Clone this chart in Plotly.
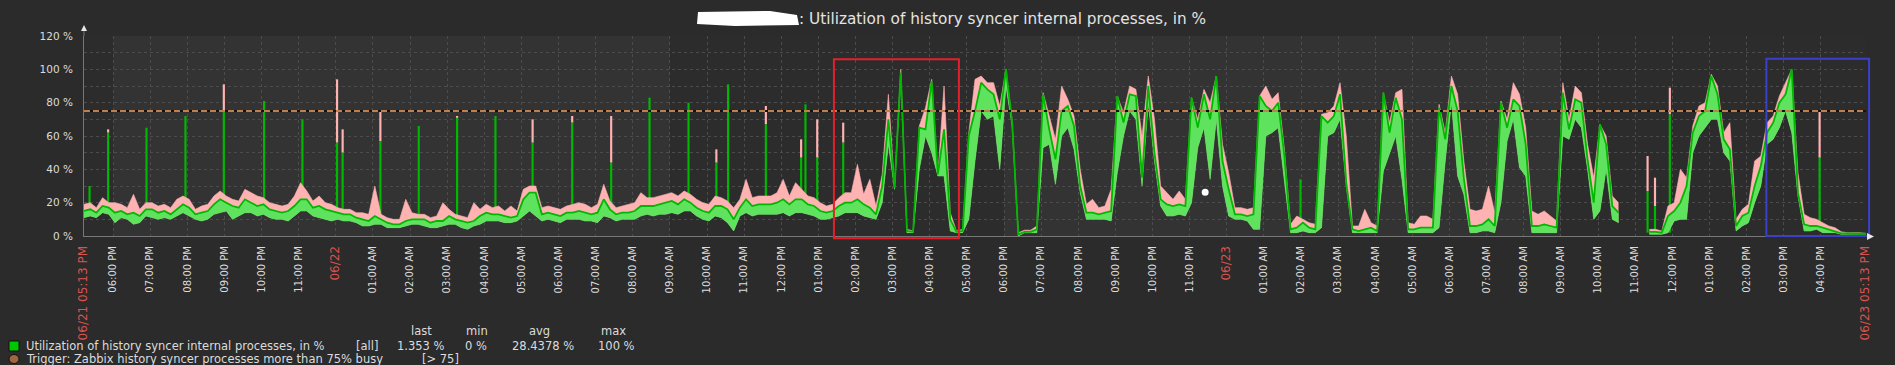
import plotly.graph_objects as go
import pandas as pd

# ---------------- data (values in %, one point every 10 minutes) ----------------
START = "2023-06-21 17:13"
END = "2023-06-23 17:13"

avg_pct = [
    # 06/21 17:13 -> 06/22 05:13
    15, 16, 14, 18, 17, 14, 15, 13, 14, 12, 16, 16, 14, 15, 13, 16, 19, 17, 13, 14,
    15, 19, 22, 20, 18, 17, 22, 20, 18, 19, 16, 15, 14, 15, 18, 22, 22, 17, 18, 16,
    15, 14, 13, 13, 11, 10, 9, 12, 10, 8, 7, 7, 9, 10, 10, 10, 8, 9, 9, 12,
    10, 9, 8, 9, 12, 14, 13, 13, 12, 11, 12, 22, 26,
    # 06/22 05:23 -> 17:13
    26, 13, 14, 13, 12, 14, 14, 15, 14, 13, 14, 22, 16, 13, 14, 14, 15, 18, 18, 18,
    19, 20, 21, 19, 22, 20, 17, 15, 14, 18, 18, 16, 10, 17, 22, 18, 19, 19, 19, 20,
    22, 19, 22, 22, 19, 18, 15, 14, 15, 18, 20, 20, 22, 19, 17, 13, 30, 70, 29, 98,
    3, 2.5, 65, 64, 93, 37, 64, 10, 2.5, 3, 60, 75,
    # 06/22 17:23 -> 06/23 05:13
    92, 88, 85, 70, 100, 68, 1, 2.5, 2.5, 4, 85, 64, 46, 75, 78, 66, 30, 14, 14, 13,
    14, 15, 84, 68, 85, 84, 35, 90, 50, 22, 19, 18, 19, 18, 83, 65, 85, 70, 96, 45,
    28, 13, 13, 12, 13, 84, 78, 75, 80, 48, 4, 5, 8, 5, 4, 72, 68, 72, 85, 32,
    4, 3, 4, 5, 3, 86, 62, 83, 70, 4, 4, 5,
    # 06/23 05:23 -> 17:13
    5, 5, 77, 58, 90, 75, 35, 6, 6, 7, 10, 6, 80, 65, 82, 78, 55, 6, 6, 7,
    6, 5, 86, 64, 82, 80, 46, 20, 67, 55, 18, 14, None, None, None, None, 2.5, 2.5, 2, 12,
    15, 20, 30, 62, 72, 75, 96, 85, 58, 52, 6, 12, 14, 30, 42, 62, 68, 80, 85, 100,
    26, 7, 6, 6, 5, 4, 3, 1.6, 1.5, 1.5, 1.4, 1.353,
]

min_pct = [
    11, 12, 11, 14, 13, 8, 11, 10, 7, 8, 12, 11, 10, 11, 10, 12, 14, 12, 10, 9,
    10, 13, 14, 15, 10, 12, 14, 14, 12, 13, 11, 10, 10, 9, 12, 15, 15, 12, 11, 10,
    9, 10, 9, 9, 8, 6, 6, 7, 7, 5, 5, 5, 6, 7, 7, 6, 5, 5, 6, 7,
    7, 5, 4, 6, 7, 9, 9, 9, 8, 8, 9, 12, 15,
    12, 9, 10, 9, 8, 10, 10, 10, 9, 9, 8, 12, 11, 9, 10, 10, 10, 12, 13, 12,
    13, 13, 14, 13, 15, 15, 12, 10, 9, 12, 11, 8, 3, 12, 14, 12, 13, 13, 13, 13,
    14, 12, 14, 14, 13, 12, 10, 10, 11, 12, 14, 14, 14, 12, 11, 10, 20, 55, 28, 95,
    2, 2, 40, 60, 50, 36, 36, 3, 2, 2, 10, 45,
    75, 70, 72, 40, 90, 66, 0, 2, 2, 2, 53, 55, 31, 60, 65, 52, 26, 10, 10, 10,
    10, 9, 38, 60, 75, 70, 30, 80, 45, 18, 12, 12, 13, 12, 20, 53, 65, 34, 70, 30,
    12, 10, 10, 9, 4, 4, 60, 62, 65, 33, 2, 2, 3, 2, 2, 5, 60, 62, 70, 30,
    2, 2, 2, 2, 2, 39, 50, 60, 34, 2, 2, 2,
    2, 2, 5, 45, 80, 36, 25, 2, 2, 3, 3, 2, 20, 57, 70, 41, 36, 2, 2, 2,
    2, 2, 60, 58, 70, 65, 40, 10, 15, 40, 10, 8, None, None, None, None, 1, 1, 1, 2,
    9, 10, 10, 50, 60, 65, 70, 70, 50, 45, 3, 6, 8, 20, 30, 55, 58, 65, 75, 62,
    24, 3, 3, 4, 2, 2, 2, 1, 1, 1, 1, 1.2,
]

max_pct = [
    19, 20, 17, 23, 20, 20, 19, 17, 25, 16, 20, 20, 18, 19, 17, 22, 24, 22, 16, 18,
    19, 24, 27, 24, 22, 21, 28, 26, 24, 23, 20, 19, 18, 19, 24, 32, 27, 21, 24, 20,
    19, 17, 16, 16, 14, 14, 13, 30, 13, 11, 10, 10, 22, 14, 13, 13, 11, 12, 20, 16,
    13, 12, 11, 20, 16, 19, 17, 18, 15, 18, 15, 28, 30,
    30, 17, 18, 17, 16, 18, 19, 20, 19, 17, 19, 31, 21, 17, 18, 19, 20, 26, 23, 23,
    24, 25, 26, 24, 27, 25, 22, 20, 19, 24, 23, 21, 17, 22, 34, 23, 24, 24, 24, 26,
    34, 24, 32, 28, 24, 23, 20, 18, 19, 23, 26, 26, 43, 25, 34, 18, 37, 85, 30, 100,
    4, 3, 66, 77, 94, 37, 90, 14, 3, 4, 62, 94,
    96, 92, 92, 78, 100, 69, 2, 3.5, 3.5, 6, 86, 72, 58, 90, 82, 72, 40, 19, 22, 17,
    18, 28, 84, 74, 90, 88, 60, 96, 70, 30, 26, 22, 27, 22, 83, 70, 88, 80, 96, 55,
    38, 17, 17, 16, 17, 84, 90, 82, 86, 52, 7, 12, 10, 8, 7, 73, 74, 78, 92, 60,
    6, 6, 16, 8, 6, 86, 68, 86, 88, 8, 7, 12,
    12, 10, 79, 62, 96, 85, 45, 16, 15, 16, 30, 14, 81, 70, 92, 85, 65, 15, 13, 15,
    12, 9, 92, 70, 90, 86, 55, 35, 67, 60, 24, 20, None, None, None, None, 4, 4, 3, 18,
    20, 40, 35, 66, 78, 80, 97, 90, 62, 68, 10, 16, 19, 45, 48, 68, 72, 84, 92, 100,
    38, 13, 11, 10, 8, 6, 5, 2.5, 2, 2, 2, 1.5,
]

# short bursts (narrower than one 10-minute step): time, base, avg peak, max peak (%)
spike_time = ["2023-06-21 17:22", "2023-06-21 17:52", "2023-06-21 18:54", "2023-06-21 19:57",
              "2023-06-21 20:59", "2023-06-21 22:04", "2023-06-21 23:06", "2023-06-22 00:02",
              "2023-06-22 00:11", "2023-06-22 01:12", "2023-06-22 02:14", "2023-06-22 03:16",
              "2023-06-22 04:18", "2023-06-22 05:18", "2023-06-22 06:22", "2023-06-22 07:25",
              "2023-06-22 08:27", "2023-06-22 09:30", "2023-06-22 10:15", "2023-06-22 10:34",
              "2023-06-22 11:35", "2023-06-22 12:32", "2023-06-22 12:39", "2023-06-22 12:58",
              "2023-06-22 13:40", "2023-06-23 01:59", "2023-06-23 11:20", "2023-06-23 11:32",
              "2023-06-23 11:56", "2023-06-23 15:58"]
spike_base = [14, 15, 14, 16, 16, 18, 18, 14, 12, 9, 9, 9, 12, 20, 14, 14, 16, 18, 15, 16,
              18, 18, 18, 16, 18, 4, 2, 2, 2, 6]
spike_avg = [30, 62, 65, 72, 75, 81, 70, 56, 50, 57, 66, 71, 72, 56, 68, 44, 83, 80, 44, 91,
             67, 47, 79, 47, 56, 34, 27, 18, 73, 47]
spike_max = [30, 64, 65, 72, 91, 81, 70, 94, 64, 75, 66, 72, 72, 70, 72, 72, 83, 80, 52, 91,
             78, 58, 79, 70, 68, 34, 48, 35, 89, 75]

TRIGGER_LEVEL = 75
y_tick_values = [0, 20, 40, 60, 80, 100, 120]
work_periods = [("2023-06-21 17:13", "2023-06-21 18:00"),
                ("2023-06-22 09:00", "2023-06-22 18:00"),
                ("2023-06-23 09:00", "2023-06-23 17:13")]

series_name = "Utilization of history syncer internal processes, in %"
trigger_name = "Trigger: Zabbix history syncer processes more than 75% busy"
stat_headers = ["last", "min", "avg", "max"]
stat_values = ["1.353 %", "0 %", "28.4378 %", "100 %"]

# user markup drawn on the screenshot: (time from, time to, % from, % to)
red_box = ("2023-06-22 13:25", "2023-06-22 16:47", -1.4, 106)
blue_box = ("2023-06-23 14:32", "2023-06-23 17:18", 0, 106.4)
white_dot = ("2023-06-22 23:25", 26.2)

# ---------------- geometry ----------------
W, H = 1895, 365
L, R, T, B = 84, 29, 36, 129
PW, PH = W - L - R, H - T - B
t0 = pd.Timestamp(START)
t1 = pd.Timestamp(END)
YMAX = 120


def px_x(x):
    return (x - L) / PW


def px_y(y):
    return (H - B - y) / PH


def time_to_paper(ts):
    return (pd.Timestamp(ts) - t0) / (t1 - t0)


times = pd.date_range(START, END, freq="10min")
assert len(times) == len(avg_pct) == len(min_pct) == len(max_pct)

BG = "#2b2b2b"
PLOT_BG = "#333333"
WORK_BG = "#2c2c2c"
GRID = "#4c4c4c"
TXT = "#dcdcdc"
RED_TXT = "#d9534f"
PINK = "#ffb2b2"
LGREEN = "#5fe35f"
DGREEN = "#00b800"
TRIG = "#c0804e"
FONT = "DejaVu Sans"


def runs(values):
    out, cur = [], []
    for i, v in enumerate(values):
        if v is None:
            if cur:
                out.append(cur)
                cur = []
        else:
            cur.append(i)
    if cur:
        out.append(cur)
    return out


fig = go.Figure()
for run in runs(avg_pct):
    xs = [times[i] for i in run]
    mn = [min_pct[i] for i in run]
    mx = [max_pct[i] for i in run]
    av = [avg_pct[i] for i in run]
    fig.add_trace(go.Scatter(x=xs, y=mn, mode="lines", line=dict(width=0, color=PINK),
                             showlegend=False, hoverinfo="skip"))
    fig.add_trace(go.Scatter(x=xs, y=mx, mode="lines", line=dict(width=0.6, color=PINK),
                             fill="tonexty", fillcolor=PINK, showlegend=False, hoverinfo="skip"))
    fig.add_trace(go.Scatter(x=xs, y=mn, mode="lines", line=dict(width=0.6, color=LGREEN),
                             showlegend=False, hoverinfo="skip"))
    fig.add_trace(go.Scatter(x=xs, y=av, mode="lines", line=dict(width=1.8, color=DGREEN),
                             fill="tonexty", fillcolor=LGREEN, showlegend=False, hoverinfo="skip"))

SPIKE_W = 3.5 * 60 * 1000  # bar width in ms
fig.add_trace(go.Bar(x=spike_time, base=spike_avg,
                     y=[m - a for m, a in zip(spike_max, spike_avg)], width=SPIKE_W,
                     marker=dict(color=PINK, line=dict(width=0)), showlegend=False, hoverinfo="skip"))
fig.add_trace(go.Bar(x=spike_time, base=spike_base,
                     y=[a - b for a, b in zip(spike_avg, spike_base)], width=SPIKE_W,
                     marker=dict(color=DGREEN, line=dict(width=0)), showlegend=False, hoverinfo="skip"))

# trigger line
fig.add_trace(go.Scatter(x=[START, END], y=[TRIGGER_LEVEL, TRIGGER_LEVEL], mode="lines",
                         line=dict(width=2, color="#111111"), showlegend=False, hoverinfo="skip"))
fig.add_trace(go.Scatter(x=[START, END], y=[TRIGGER_LEVEL, TRIGGER_LEVEL], mode="lines",
                         line=dict(width=2, color=TRIG, dash="6px,3px"), showlegend=False,
                         hoverinfo="skip"))

# ---------------- x ticks (hourly; hours too close to the end label are skipped) ----------------
RED_SPAN = "<span style='color:" + RED_TXT + ";font-size:12px'>{}</span>"
tickvals = [t0]
ticktext = [RED_SPAN.format(t0.strftime('%m/%d %I:%M %p'))]
for h in pd.date_range(t0.ceil("h"), t1.floor("h"), freq="h"):
    if (t1 - h) < pd.Timedelta(minutes=30) or (h - t0) < pd.Timedelta(minutes=30):
        continue
    tickvals.append(h)
    if h.hour == 0:
        ticktext.append(RED_SPAN.format(h.strftime('%m/%d')))
    else:
        ticktext.append(h.strftime("%I:%M %p"))
tickvals.append(t1)
ticktext.append(RED_SPAN.format(t1.strftime('%m/%d %I:%M %p')))

shapes = []
for a, b in work_periods:
    shapes.append(dict(type="rect", xref="x", yref="paper", x0=a, x1=b, y0=0, y1=1,
                       fillcolor=WORK_BG, line=dict(width=0), layer="below"))
for box, col in ((red_box, "#e3202c"), (blue_box, "#3b40c8")):
    shapes.append(dict(type="rect", xref="paper", yref="paper",
                       x0=time_to_paper(box[0]), x1=time_to_paper(box[1]),
                       y0=box[2] / YMAX, y1=box[3] / YMAX,
                       line=dict(color=col, width=2), fillcolor="rgba(0,0,0,0)"))
dx = time_to_paper(white_dot[0])
dy = white_dot[1] / YMAX
shapes.append(dict(type="circle", xref="paper", yref="paper",
                   x0=dx - 3.5 / PW, x1=dx + 3.5 / PW, y0=dy - 3.5 / PH, y1=dy + 3.5 / PH,
                   fillcolor="white", line=dict(width=0)))
# axis extensions and arrows
shapes.append(dict(type="line", xref="paper", yref="paper", x0=px_x(84), x1=px_x(84),
                   y0=px_y(36), y1=px_y(30), line=dict(color="#777777", width=1)))
shapes.append(dict(type="path", xref="paper", yref="paper",
                   path=f"M {px_x(81)},{px_y(31)} L {px_x(87)},{px_y(31)} L {px_x(84)},{px_y(25)} Z",
                   fillcolor="#e8e8e8", line=dict(width=0)))
shapes.append(dict(type="path", xref="paper", yref="paper",
                   path=f"M {px_x(1867)},{px_y(233)} L {px_x(1867)},{px_y(240)} L {px_x(1874)},{px_y(236.5)} Z",
                   fillcolor="#e8e8e8", line=dict(width=0)))
# title blob (redacted host name)
shapes.append(dict(type="path", xref="paper", yref="paper",
                   path=(f"M {px_x(698)},{px_y(12)} L {px_x(770)},{px_y(11)} L {px_x(797)},{px_y(15)} "
                         f"L {px_x(799)},{px_y(25)} L {px_x(735)},{px_y(26)} L {px_x(697)},{px_y(24)} Z"),
                   fillcolor="white", line=dict(width=0)))
# legend markers
ROW0, ROW1, ROW2 = 331, 346, 359
shapes.append(dict(type="rect", xref="paper", yref="paper", x0=px_x(9), x1=px_x(19),
                   y0=px_y(ROW1 + 5), y1=px_y(ROW1 - 5), fillcolor="#00c800",
                   line=dict(color="#101010", width=1)))
shapes.append(dict(type="circle", xref="paper", yref="paper", x0=px_x(9), x1=px_x(19),
                   y0=px_y(ROW2 + 4.5), y1=px_y(ROW2 - 4.5), fillcolor="#a0673f",
                   line=dict(color="#101010", width=1)))

annotations = []


def add_text(text, x, y, anchor="left", size=11.5, color=TXT):
    annotations.append(dict(text=text, xref="paper", yref="paper", x=px_x(x), y=px_y(y),
                            xanchor=anchor, yanchor="middle", showarrow=False,
                            font=dict(family=FONT, size=size, color=color)))


add_text(": Utilization of history syncer internal processes, in %", 797, 19, size=15.3, color="#e4e4e4")
for hdr, cx in zip(stat_headers, [421, 477, 539, 613]):
    add_text(hdr, cx, ROW0, anchor="center")
add_text(series_name, 24, ROW1)
add_text("[all]", 367, ROW1, anchor="center")
for val, cx in zip(stat_values, [421, 476, 542.5, 616]):
    add_text(val, cx, ROW1, anchor="center")
add_text(trigger_name, 24, ROW2)
add_text("[> 75]", 420, ROW2)

fig.update_layout(
    width=W, height=H,
    margin=dict(l=L, r=R, t=T, b=B, pad=0),
    paper_bgcolor=BG, plot_bgcolor=PLOT_BG,
    showlegend=False, barmode="overlay",
    shapes=shapes, annotations=annotations,
    font=dict(family=FONT, color=TXT),
    xaxis=dict(type="date", range=[t0, t1], tickvals=tickvals, ticktext=ticktext,
               tickangle=-90, tickfont=dict(family=FONT, size=10, color=TXT),
               showgrid=True, gridcolor=GRID, griddash="3px,3px", gridwidth=1,
               showline=True, linecolor="#777777", linewidth=1, ticks="",
               zeroline=False, ticklabelstandoff=5, fixedrange=True),
    yaxis=dict(range=[0, YMAX], tickvals=y_tick_values,
               ticktext=[f"{v} %" for v in y_tick_values],
               tickfont=dict(family=FONT, size=10.5, color=TXT),
               showgrid=True, gridcolor=GRID, griddash="3px,3px", gridwidth=1,
               minor=dict(dtick=10, showgrid=True, gridcolor=GRID, griddash="3px,3px"),
               showline=True, linecolor="#777777", linewidth=1, ticks="",
               zeroline=False, ticklabelstandoff=8, fixedrange=True),
)

fig.write_html("out.html", config={"displayModeBar": False},
               post_script="document.body.style.margin='0';document.body.style.background='#2b2b2b';")
